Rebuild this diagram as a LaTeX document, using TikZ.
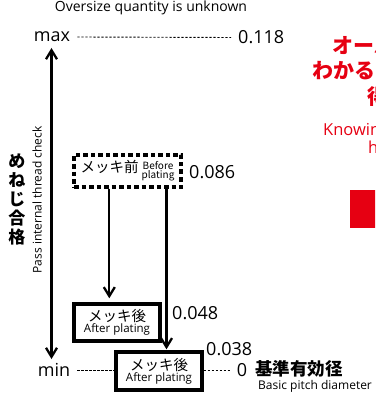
\documentclass[tikz,border=0pt]{standalone}
\usepackage{fontspec}
\setmainfont{Open Sans}
\newfontfamily\jp{Noto Sans CJK JP}
\usetikzlibrary{arrows.meta}
\definecolor{jred}{RGB}{230,0,18}
\newcommand{\fsz}[1]{\fontsize{#1}{#1}\selectfont}
\begin{document}
\begin{tikzpicture}[x=1pt,y=-1pt,
  lbl/.style={inner sep=0pt,text=black},
  dotline/.style={line width=0.9pt,dash pattern=on 2.4pt off 1.6pt},
  arr/.style={line width=2.3pt,-{Straight Barb[length=9pt,width=11pt,line width=2.3pt]}},
  platebox/.style={draw,line width=3.4pt,inner sep=0pt,align=center},
  redtxt/.style={text=jred,inner sep=0pt,anchor=west}]
\useasboundingbox (0,0) rectangle (375,395);
\clip (0,0) rectangle (375,395);
% top text
\node[lbl,font=\fsz{14}] (title) at (151,8) {Oversize quantity is unknown};
\node[lbl,font=\fsz{18}] (max) at (52,37) {max};
\node[lbl,font=\fsz{18},anchor=west] (v118) at (238,37.5) {0.118};
\draw[dotline] ([xshift=7pt]max.east) -- ([xshift=-7pt]v118.west);
% vertical arrow
\coordinate (atop) at (51.5,48);
\coordinate (abot) at (51.5,359);
\draw[line width=2.3pt,{Straight Barb[length=9pt,width=11pt,line width=2.3pt]}-{Straight Barb[length=9pt,width=11pt,line width=2.3pt]}] (atop) -- (abot);
\node[lbl,font=\fsz{12},rotate=90] (pass) at (37,200) {Pass internal thread check};
\node[lbl,font=\fsz{17}\jp\bfseries,align=center] (mene) at (17,199) {め\\[2pt]ね\\[2pt]じ\\[2pt]合\\[2pt]格};
% before plating box
\node[platebox,dash pattern=on 4.5pt off 3pt,minimum width=107pt,minimum height=32pt] (before) at (127.5,171)
  {\fsz{14.5}\jp メッキ前\hspace{3pt}\raisebox{-1pt}{\fsz{10}\begin{tabular}{@{}c@{}}Before\\[-2pt]plating\end{tabular}}};
\node[lbl,font=\fsz{18},anchor=west] (v086) at (189,172.5) {0.086};
% after plating boxes
\node[platebox,minimum width=86pt,minimum height=37pt] (after1) at (117,322.5)
  {{\fsz{14.5}\jp メッキ後}\\[-1pt]\fsz{11.5}After plating};
\node[platebox,minimum width=86pt,minimum height=38pt] (after2) at (159,371)
  {{\fsz{14.5}\jp メッキ後}\\[-1pt]\fsz{11.5}After plating};
\node[lbl,font=\fsz{18},anchor=west] (v048) at (172,313) {0.048};
\node[lbl,font=\fsz{18},anchor=west] (v038) at (206,349) {0.038};
% arrows
\draw[arr,shorten >=4pt] (before.south -| 109.3,0) -- (after1.north -| 109.3,0);
\draw[arr,shorten >=1pt] (before.south -| 166.5,0) -- (after2.north -| 166.5,0);
% bottom row
\node[lbl,font=\fsz{18}] (min) at (54,370) {min};
\node[lbl,font=\fsz{18}] (v0) at (242,370.5) {0};
\draw[dotline] ([xshift=7pt]min.east) -- (after2.west |- min.east);
\draw[dotline] (after2.east |- v0.west) -- ([xshift=-5pt]v0.west);
\node[lbl,font=\fsz{17.5}\jp\bfseries,anchor=west] (kijun) at (255,369) {基準有効径};
\node[lbl,font=\fsz{12},anchor=west] (basic) at (258,386.5) {Basic pitch diameter};
% red text (cut off at the right)
\node[redtxt,font=\fsz{21}\jp\bfseries] (r1) at (332,45) {オーバーサイズ量が};
\node[redtxt,font=\fsz{21}\jp\bfseries] (r2) at (312,71) {わかるので安心};
\node[redtxt,font=\fsz{21}\jp\bfseries] (r3) at (367,97) {得};
\node[redtxt,font=\fsz{16.5}] (r4) at (323,131) {Knowing};
\node[redtxt,font=\fsz{16.5}] (r5) at (368,147) {how};
\fill[jred] (350,190) rectangle (380,228);
\end{tikzpicture}
\end{document}
